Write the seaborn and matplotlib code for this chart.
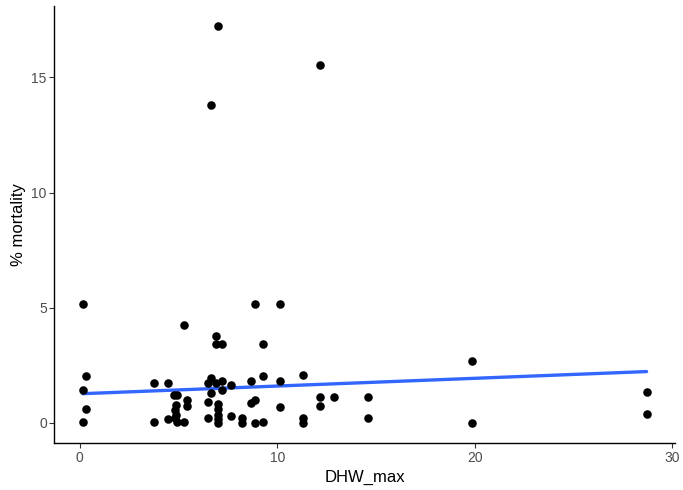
import matplotlib
matplotlib.use("Agg")
import matplotlib.pyplot as plt
import seaborn as sns
import pandas as pd

dhw_max = [0.15, 0.31, 0.15, 0.31, 0.15,
           3.78, 3.78, 4.48, 4.48, 5.27,
           4.79, 4.92, 4.86, 4.80, 4.86, 4.80, 4.95,
           5.42, 5.42, 5.27,
           6.63, 7.00, 12.16,
           6.48, 6.63, 6.63, 6.48, 6.48,
           6.92, 6.92, 7.22,
           6.92, 7.22, 7.22,
           6.98, 6.98, 6.98, 6.98, 6.98,
           7.64, 7.64, 8.23, 8.23,
           8.69, 8.69, 8.85, 8.85, 8.85,
           9.29, 9.29, 9.29,
           10.16, 10.16, 10.16,
           11.33, 11.33, 11.33,
           12.18, 12.18, 12.90,
           14.62, 14.62,
           19.87, 19.87,
           28.70, 28.70]
mortality = [5.17, 2.05, 1.45, 0.61, 0.06,
             1.72, 0.06, 1.75, 0.19, 4.27,
             1.22, 1.22, 0.78, 0.57, 0.35, 0.22, 0.06,
             1.01, 0.75, 0.06,
             13.79, 17.25, 15.53,
             1.74, 1.94, 1.30, 0.90, 0.22,
             3.76, 3.44, 3.44,
             1.74, 1.81, 1.42,
             0.84, 0.61, 0.36, 0.17, 0.00,
             1.64, 0.32, 0.22, 0.00,
             1.84, 0.87, 1.01, 5.17, 0.00,
             3.44, 2.05, 0.03,
             5.17, 1.81, 0.69,
             2.10, 0.22, 0.00,
             1.11, 0.75, 1.11,
             1.11, 0.20,
             2.68, 0.00,
             1.36, 0.39]

# fitted trend line as shown in the figure (model prediction)
fit_x = [0.15, 28.70]
fit_y = [1.27, 2.23]

df = pd.DataFrame({"DHW_max": dhw_max, "mortality": mortality})
fit = pd.DataFrame({"DHW_max": fit_x, "mortality": fit_y})

sns.set_theme(style="ticks")
plt.rcParams["font.family"] = ["Liberation Sans", "DejaVu Sans"]

fig = plt.figure(figsize=(6.83, 4.90), dpi=100)
ax = fig.add_axes([0.0797, 0.096, 0.9083, 0.892])

sns.scatterplot(data=df, x="DHW_max", y="mortality", ax=ax, s=38,
                color="black", linewidth=0, zorder=3)
sns.lineplot(data=fit, x="DHW_max", y="mortality", ax=ax,
             color="#3366FF", linewidth=2.4, zorder=2)

ax.set_xlim(-1.28, 30.13)
ax.set_ylim(-0.87, 18.11)
ax.set_xticks([0, 10, 20, 30])
ax.set_yticks([0, 5, 10, 15])
ax.set_xlabel("DHW_max", fontsize=12, color="black", labelpad=4)
ax.set_ylabel("% mortality", fontsize=12, color="black", labelpad=4)
ax.tick_params(axis="both", labelsize=10, labelcolor="#4D4D4D", color="#333333",
               length=3.5, width=0.8, pad=2)
for s in ["top", "right"]:
    ax.spines[s].set_visible(False)
for s in ["left", "bottom"]:
    ax.spines[s].set_color("black")
    ax.spines[s].set_linewidth(1.0)

fig.savefig("out.png", dpi=100, facecolor="white")
